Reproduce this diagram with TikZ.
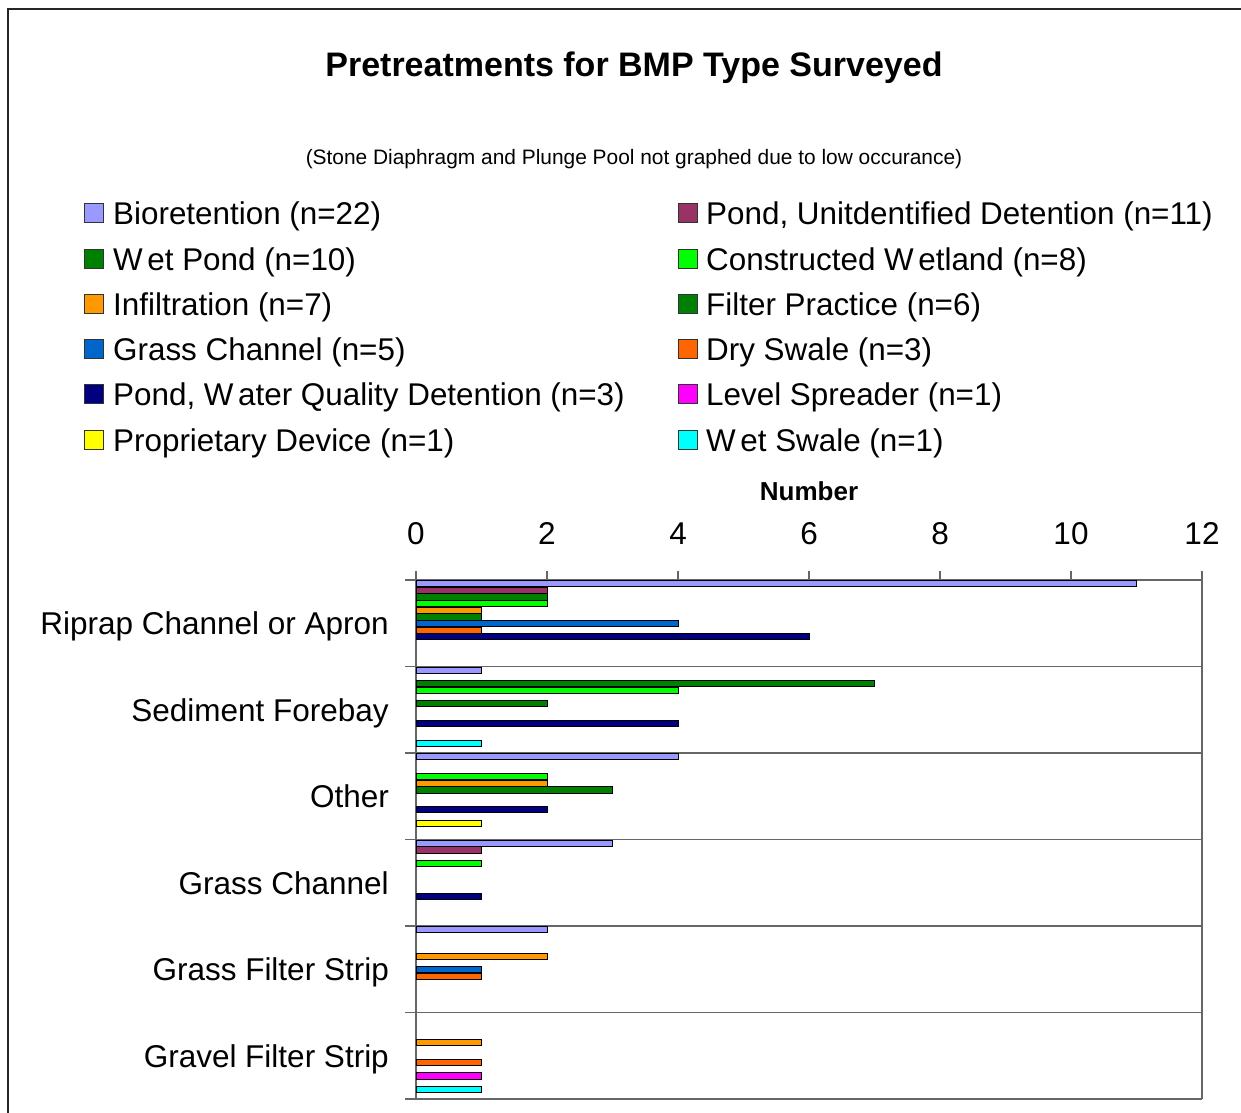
\documentclass[tikz,border=0pt]{standalone}
\usepackage{fontspec}
\setmainfont{Liberation Sans}

% series colours
\definecolor{cBio}{HTML}{9999FF}
\definecolor{cPondU}{HTML}{993366}
\definecolor{cWetPond}{HTML}{008000}
\definecolor{cCW}{HTML}{00FF00}
\definecolor{cInf}{HTML}{FF9900}
\definecolor{cFP}{HTML}{008000}
\definecolor{cGC}{HTML}{0066CC}
\definecolor{cDS}{HTML}{FF6600}
\definecolor{cPWQ}{HTML}{000080}
\definecolor{cLS}{HTML}{FF00FF}
\definecolor{cPD}{HTML}{FFFF00}
\definecolor{cWS}{HTML}{00FFFF}

% loose W as set by the chart's legend font
\newcommand\looseW{W\kern4.5pt}

\tikzset{
  titletext/.style={inner sep=0pt, font=\fontsize{34}{40}\selectfont\bfseries},
  subtext/.style={inner sep=0pt, font=\fontsize{20.9}{25}\selectfont},
  legtext/.style={inner sep=0pt, anchor=base west, font=\fontsize{31.4}{36}\selectfont},
  swatch/.style={draw=black!80, line width=0.8pt, minimum size=19pt, inner sep=0pt},
  cattext/.style={inner sep=0pt, anchor=base east, font=\fontsize{31.5}{36}\selectfont},
  ticktext/.style={inner sep=0pt, anchor=base, font=\fontsize{31.5}{36}\selectfont},
  axistitle/.style={inner sep=0pt, anchor=base, font=\fontsize{26}{30}\selectfont\bfseries},
  gridline/.style={draw=black!60, line width=1.3pt},
  axisline/.style={draw=black!60, line width=1.3pt},
  barstyle/.style={draw=black, line width=0.8pt},
}

% bar: category index, slot index, value, colour
\newcommand\chartbar[4]{%
  \filldraw[barstyle, fill=#4] (416,{580+#1*86.5+#2*6.63+0.6}) rectangle ({416+#3*65.5},{580+#1*86.5+#2*6.63+6.8});
}

\begin{document}
\begin{tikzpicture}[x=1pt, y=-1pt]
\useasboundingbox (0,0) rectangle (1241,1112);
\clip (0,0) rectangle (1241,1112);
\fill[white] (0,0) rectangle (1241,1112);

% chart frame
\draw[black!85, line width=1.6pt] (8,9) rectangle (1262,1132);

% titles
\node[titletext, anchor=base] (title) at (634,76.2) {Pretreatments for BMP Type Surveyed};
\node[subtext, anchor=base] (subtitle) at (634,164.5) {(Stone Diaphragm and Plunge Pool not graphed due to low occurance)};

% legend, left column
\node[swatch, fill=cBio]     (sw1)  at (94,213) {};
\node[legtext] (lt1)  at (113,224.2) {Bioretention (n=22)};
\node[swatch, fill=cWetPond] (sw3)  at (94,259) {};
\node[legtext] (lt3)  at (113,270.2) {\looseW et Pond (n=10)};
\node[swatch, fill=cInf]     (sw5)  at (94,304) {};
\node[legtext] (lt5)  at (113,315.2) {Infiltration (n=7)};
\node[swatch, fill=cGC]      (sw7)  at (94,349) {};
\node[legtext] (lt7)  at (113,360.2) {Grass Channel (n=5)};
\node[swatch, fill=cPWQ]     (sw9)  at (94,394) {};
\node[legtext] (lt9)  at (113,405.2) {Pond, \looseW ater Quality Detention (n=3)};
\node[swatch, fill=cPD]      (sw11) at (94,440) {};
\node[legtext] (lt11) at (113,451.2) {Proprietary Device (n=1)};

% legend, right column
\node[swatch, fill=cPondU]   (sw2)  at (687.5,213) {};
\node[legtext] (lt2)  at (706,224.2) {Pond, Unitdentified Detention (n=11)};
\node[swatch, fill=cCW]      (sw4)  at (687.5,259) {};
\node[legtext] (lt4)  at (706,270.2) {Constructed \looseW etland (n=8)};
\node[swatch, fill=cFP]      (sw6)  at (687.5,304) {};
\node[legtext] (lt6)  at (706,315.2) {Filter Practice (n=6)};
\node[swatch, fill=cDS]      (sw8)  at (687.5,349) {};
\node[legtext] (lt8)  at (706,360.2) {Dry Swale (n=3)};
\node[swatch, fill=cLS]      (sw10) at (687.5,394) {};
\node[legtext] (lt10) at (706,405.2) {Level Spreader (n=1)};
\node[swatch, fill=cWS]      (sw12) at (687.5,440) {};
\node[legtext] (lt12) at (706,451.2) {\looseW et Swale (n=1)};

% value axis title and tick labels
\node[axistitle] (numtitle) at (809,500.3) {Number};
\foreach \v [count=\i] in {0,2,4,6,8,10,12}
  \node[ticktext] (tick\i) at ({416+\v*65.5},544.3) {\v};

% value axis ticks
\foreach \v in {0,2,4,6,8,10,12}
  \draw[axisline] ({416+\v*65.5},571) -- ({416+\v*65.5},580);

% category separators with their ticks
\foreach \k in {0,...,6}
  \draw[gridline] (405,{580+\k*86.5}) -- (1202,{580+\k*86.5});

% plot area border and category axis
\draw[axisline] (1202,580) -- (1202,1099);
\draw[axisline] (416,571) -- (416,1099);

% category labels
\node[cattext] (c1) at (389,{623.25+11.3}) {Riprap Channel or Apron};
\node[cattext] (c2) at (389,{709.75+11.3}) {Sediment Forebay};
\node[cattext] (c3) at (389,{796.25+11.3}) {Other};
\node[cattext] (c4) at (389,{882.75+11.3}) {Grass Channel};
\node[cattext] (c5) at (389,{969.25+11.3}) {Grass Filter Strip};
\node[cattext] (c6) at (389,{1055.75+11.3}) {Gravel Filter Strip};

% Riprap Channel or Apron
\chartbar{0}{0}{11}{cBio}
\chartbar{0}{1}{2}{cPondU}
\chartbar{0}{2}{2}{cWetPond}
\chartbar{0}{3}{2}{cCW}
\chartbar{0}{4}{1}{cInf}
\chartbar{0}{5}{1}{cFP}
\chartbar{0}{6}{4}{cGC}
\chartbar{0}{7}{1}{cDS}
\chartbar{0}{8}{6}{cPWQ}
% Sediment Forebay
\chartbar{1}{0}{1}{cBio}
\chartbar{1}{2}{7}{cWetPond}
\chartbar{1}{3}{4}{cCW}
\chartbar{1}{5}{2}{cFP}
\chartbar{1}{8}{4}{cPWQ}
\chartbar{1}{11}{1}{cWS}
% Other
\chartbar{2}{0}{4}{cBio}
\chartbar{2}{3}{2}{cCW}
\chartbar{2}{4}{2}{cInf}
\chartbar{2}{5}{3}{cFP}
\chartbar{2}{8}{2}{cPWQ}
\chartbar{2}{10}{1}{cPD}
% Grass Channel
\chartbar{3}{0}{3}{cBio}
\chartbar{3}{1}{1}{cPondU}
\chartbar{3}{3}{1}{cCW}
\chartbar{3}{8}{1}{cPWQ}
% Grass Filter Strip
\chartbar{4}{0}{2}{cBio}
\chartbar{4}{4}{2}{cInf}
\chartbar{4}{6}{1}{cGC}
\chartbar{4}{7}{1}{cDS}
% Gravel Filter Strip
\chartbar{5}{4}{1}{cInf}
\chartbar{5}{7}{1}{cDS}
\chartbar{5}{9}{1}{cLS}
\chartbar{5}{11}{1}{cWS}
\end{tikzpicture}
\end{document}
